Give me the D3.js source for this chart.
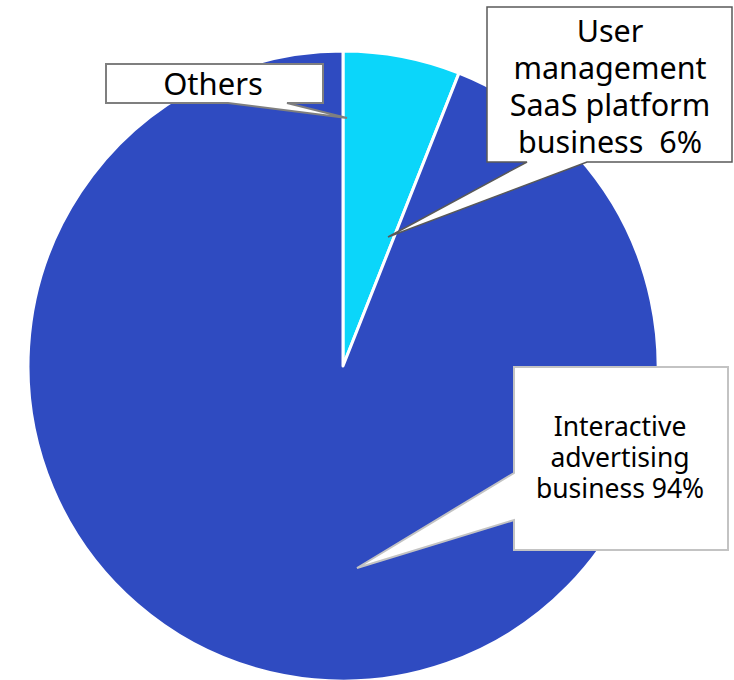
<!DOCTYPE html>
<html>
<head>
<meta charset="utf-8">
<script src="https://cdn.jsdelivr.net/npm/d3@7"></script>
<style>
  html, body { margin: 0; padding: 0; background: #ffffff; }
  svg { display: block; }
  text { font-family: "Noto Sans", "Open Sans", sans-serif; fill: #000; }
</style>
</head>
<body>
<svg id="chart" width="734" height="680"></svg>
<script>
// Revenue share by business line
const categories = ["Others", "User management SaaS platform business", "Interactive advertising business"];
const values = [0, 6, 94];
const colors = ["#2f4bc1", "#0bd6fa", "#2f4bc1"];
const labelLines = [
  ["Others"],
  ["User", "management", "SaaS platform", "business  6%"],
  ["Interactive", "advertising", "business 94%"]
];

const width = 734, height = 680;
const cx = 343, cy = 366, radius = 315;

const svg = d3.select("#chart");
const g = svg.append("g").attr("transform", `translate(${cx},${cy})`);

const pie = d3.pie().sort(null).value(d => d.value);
const arc = d3.arc().innerRadius(0).outerRadius(radius);

const data = categories.map((c, i) => ({ name: c, value: values[i], color: colors[i] }));
const arcs = pie(data);

g.selectAll("path.slice")
  .data(arcs)
  .join("path")
  .attr("class", "slice")
  .attr("d", arc)
  .attr("fill", d => d.data.color)
  .attr("stroke", "#ffffff")
  .attr("stroke-width", 3)
  .attr("stroke-linejoin", "round");

// Callout boxes: rectangle plus a wedge pointing at the slice
const callouts = [
  { box: [106, 64, 323, 103], side: "bottom", base: [228, 287], tip: [347, 118],
    stroke: "#7f7f7f", sw: 2, size: 31, cxText: 213, y0: 95, lh: 0 },
  { box: [487, 7, 732, 162], side: "bottom", base: [527, 587], tip: [388, 237],
    stroke: "#595959", sw: 1.5, size: 30.5, cxText: 610, y0: 42, lh: 37 },
  { box: [514, 367, 728, 550], side: "left", base: [473, 520], tip: [357, 568],
    stroke: "#c3c3c3", sw: 2, size: 26.5, cxText: 620, y0: 436, lh: 31 }
];

function calloutPath(c) {
  const [x0, y0, x1, y1] = c.box;
  const p = d3.path();
  if (c.side === "bottom") {
    p.moveTo(x0, y0);
    p.lineTo(x1, y0);
    p.lineTo(x1, y1);
    p.lineTo(c.base[1], y1);
    p.lineTo(c.tip[0], c.tip[1]);
    p.lineTo(c.base[0], y1);
    p.lineTo(x0, y1);
    p.closePath();
  } else {
    p.moveTo(x0, y0);
    p.lineTo(x1, y0);
    p.lineTo(x1, y1);
    p.lineTo(x0, y1);
    p.lineTo(x0, c.base[1]);
    p.lineTo(c.tip[0], c.tip[1]);
    p.lineTo(x0, c.base[0]);
    p.closePath();
  }
  return p.toString();
}

const callG = svg.append("g");
callouts.forEach((c, i) => {
  callG.append("path")
    .attr("d", calloutPath(c))
    .attr("fill", "#ffffff")
    .attr("stroke", c.stroke)
    .attr("stroke-width", c.sw)
    .attr("stroke-linejoin", "miter");

  const t = callG.append("text")
    .attr("text-anchor", "middle")
    .attr("font-size", c.size);
  labelLines[i].forEach((line, j) => {
    t.append("tspan")
      .attr("x", c.cxText)
      .attr("y", c.y0 + j * c.lh)
      .attr("xml:space", "preserve")
      .text(line);
  });
});
</script>
</body>
</html>
